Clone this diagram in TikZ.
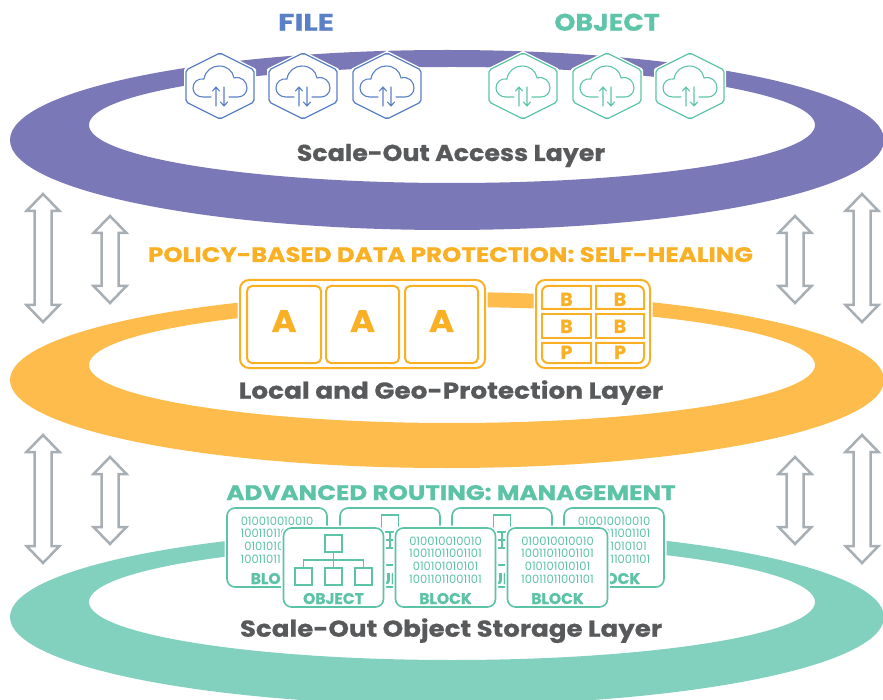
\documentclass[tikz,border=0pt]{standalone}
\usepackage{graphicx}
\usepackage{fontspec}
\setmainfont{Poppins}[BoldFeatures={FakeBold=0.6}]
\definecolor{ringP}{HTML}{7B78B8}
\definecolor{ringY}{HTML}{FDBC4B}
\definecolor{ringT}{HTML}{82D0BE}
\definecolor{fileB}{HTML}{5A80C6}
\definecolor{objT}{HTML}{5FC5AA}
\definecolor{polO}{HTML}{F9B025}
\definecolor{advT}{HTML}{5DC3A6}
\definecolor{txtG}{HTML}{58595B}
\definecolor{arrG}{HTML}{A7AFB4}
\tikzset{
  layer/.style={font=\fontsize{23}{23}\selectfont\bfseries, text=txtG, inner sep=0pt, anchor=base},
  head/.style={font=\fontsize{21}{21}\selectfont\bfseries, inner sep=0pt, anchor=base},
  arrsty/.style={draw=arrG, line width=2.5pt, line join=miter, fill=white},
  halo/.style={preaction={draw=white, line width=5pt}},
  obox/.style={draw=polO, line width=2pt, fill=white, rounded corners=9pt, halo},
  ocell/.style={draw=polO, line width=2pt, fill=white, rounded corners=5pt},
  ocellsq/.style={draw=polO, line width=2pt, fill=white},
  aletter/.style={font=\fontsize{31}{31}\selectfont\bfseries, text=polO, inner sep=0pt, anchor=base},
  bletter/.style={font=\fontsize{19}{19}\selectfont\bfseries, text=polO, inner sep=0pt, anchor=base},
  tbox/.style={draw=advT, line width=1.6pt, fill=white, rounded corners=8pt, halo},
  bin/.style={font=\fontsize{11.5}{11.5}\selectfont, text=advT, inner sep=0pt, anchor=base},
  blbl/.style={font=\fontsize{15.5}{15.5}\selectfont\bfseries, text=advT, inner sep=0pt, anchor=base},
  tree/.style={draw=advT, line width=1.3pt},
}
\newcommand\sx[2]{\scalebox{#1}[1]{#2}}
\newcommand\dblarr[4]{% name x ytop ybot
  \draw[arrsty] (#2,#3) coordinate (#1) -- (#2+16.5,#3+17) -- (#2+8.5,#3+17) -- (#2+8.5,#4-17)
   -- (#2+16.5,#4-17) -- (#2,#4) -- (#2-16.5,#4-17) -- (#2-8.5,#4-17) -- (#2-8.5,#3+17)
   -- (#2-16.5,#3+17) -- cycle;}
\newcommand\hexicon[4]{% name cx cy color
  \begin{scope}[shift={(#2,#3)}]
  \coordinate (#1) at (0,0);
  \draw[white, line width=4pt, fill=white, line join=round] (0,-33) -- (34,-16) -- (34,16) -- (0,33) -- (-34,16) -- (-34,-16) -- cycle;
  \draw[#4, line width=1.3pt, rounded corners=2pt] (0,-33) -- (34,-16) -- (34,16) -- (0,33) -- (-34,16) -- (-34,-16) -- cycle;
  \draw[#4, line width=1.1pt, line cap=round, line join=round] (-9,11) -- (-17,11)
    .. controls (-23,11) and (-27,7) .. (-27,2)
    .. controls (-27,-4) and (-22,-8) .. (-16,-7)
    .. controls (-15,-15) and (-8,-20) .. (-1,-20)
    .. controls (7,-20) and (13,-15) .. (14,-8)
    .. controls (21,-10) and (27,-5) .. (27,2)
    .. controls (27,7) and (23,11) .. (18,11) -- (9,11);
  \draw[#4, line width=1.1pt, line cap=round, line join=round] (-4,20) -- (-4,1) (-7.5,5) -- (-4,1) -- (-0.5,5)
    (4,1) -- (4,20) (0.5,16) -- (4,20) -- (7.5,16);
  \end{scope}}
\newcommand\blockbox[3]{% name cx top
  \draw[tbox] (#2-50,#3) rectangle (#2+50,#3+79);
  \coordinate (#1) at (#2,#3);
  \node[bin] (#1a) at (#2,#3+17) {010010010010};
  \node[bin] (#1b) at (#2,#3+29.7) {10011011001101};
  \node[bin] (#1c) at (#2,#3+42.4) {010101010101};
  \node[bin] (#1d) at (#2,#3+55) {10011011001101};
  \node[blbl] (#1l) at (#2,#3+76) {BLOCK};}
\newcommand\objbox[3]{% name cx top
  \draw[tbox] (#2-50,#3) rectangle (#2+50,#3+79);
  \coordinate (#1) at (#2,#3);
  \draw[tree] (#2-8.5,#3+7) rectangle (#2+8.5,#3+24);
  \draw[tree] (#2,#3+24) -- (#2,#3+32) (#2-30,#3+40) -- (#2-30,#3+32) -- (#2+30,#3+32) -- (#2+30,#3+40) (#2,#3+32) -- (#2,#3+40);
  \draw[tree] (#2-38.5,#3+40) rectangle (#2-21.5,#3+57);
  \draw[tree] (#2-8.5,#3+40) rectangle (#2+8.5,#3+57);
  \draw[tree] (#2+21.5,#3+40) rectangle (#2+38.5,#3+57);
  \node[blbl] (#1l) at (#2,#3+76) {OBJECT};}
\begin{document}
\begin{tikzpicture}[x=1pt, y=-1pt]
\useasboundingbox (0,0) rectangle (883,700);
% rings
\fill[ringP, even odd rule] (447,140) ellipse [x radius=437pt, y radius=90pt] (452,125) ellipse [x radius=363pt, y radius=58pt];
\fill[ringY, even odd rule] (447,380) ellipse [x radius=437pt, y radius=88pt] (452,365) ellipse [x radius=363pt, y radius=58pt];
\fill[ringT, even odd rule] (447,617) ellipse [x radius=437pt, y radius=88pt] (452,602) ellipse [x radius=363pt, y radius=58pt];
% headings
\node[head, text=fileB, font=\fontsize{24}{24}\selectfont\bfseries] (file) at (306,30.7) {\sx{1.25}{FILE}};
\node[head, text=objT, font=\fontsize{24}{24}\selectfont\bfseries] (object) at (607,30.7) {\sx{1.12}{OBJECT}};
\node[layer] (access) at (451,161) {\sx{1.1}{Scale-Out Access Layer}};
\node[head, text=polO] (policy) at (450.5,262) {\sx{1.17}{POLICY-BASED DATA PROTECTION: SELF-HEALING}};
\node[layer] (local) at (451,398.7) {\sx{1.145}{Local and Geo-Protection Layer}};
\node[head, text=advT] (routing) at (451,500) {\sx{1.175}{ADVANCED ROUTING: MANAGEMENT}};
\node[layer] (storage) at (451,636.7) {\sx{1.135}{Scale-Out Object Storage Layer}};
% icons
\hexicon{f1}{220}{86}{fileB}
\hexicon{f2}{303}{86}{fileB}
\hexicon{f3}{387}{86}{fileB}
\hexicon{o1}{523}{86}{objT}
\hexicon{o2}{607}{86}{objT}
\hexicon{o3}{690}{86}{objT}
% arrows
\dblarr{a1}{43}{194}{322}
\dblarr{a2}{110}{216}{303}
\dblarr{a3}{795}{216}{303}
\dblarr{a4}{862}{194}{322}
\dblarr{a5}{43}{435}{563}
\dblarr{a6}{110}{457}{544}
\dblarr{a7}{795}{457}{544}
\dblarr{a8}{862}{435}{563}
% A box
\draw[obox] (240,280) rectangle (485,368);
\draw[ocell] (247,286) rectangle (321,363);
\draw[ocell] (326,286) rectangle (399,363);
\draw[ocell] (405,286) rectangle (478,363);
\node[aletter] (A1) at (284,332) {\sx{1.1}{A}};
\node[aletter] (A2) at (362.5,332) {\sx{1.1}{A}};
\node[aletter] (A3) at (441.5,332) {\sx{1.1}{A}};
% B box
\draw[obox] (536,280) rectangle (650,368);
\draw[ocellsq] (591,286) -- (548,286) .. controls (544.7,286) and (542,288.7) .. (542,292) -- (542,309) -- (591,309) -- cycle;
\draw[ocellsq] (596,286) -- (638,286) .. controls (641.3,286) and (644,288.7) .. (644,292) -- (644,309) -- (596,309) -- cycle;
\draw[ocellsq] (542,314) rectangle (591,338);
\draw[ocellsq] (596,314) rectangle (644,338);
\draw[ocellsq] (591,343) -- (591,363) -- (548,363) .. controls (544.7,363) and (542,360.3) .. (542,357) -- (542,343) -- cycle;
\draw[ocellsq] (596,343) -- (596,363) -- (638,363) .. controls (641.3,363) and (644,360.3) .. (644,357) -- (644,343) -- cycle;
\node[bletter] (B1) at (566.5,306) {B};
\node[bletter] (B2) at (620,306) {B};
\node[bletter] (B3) at (566.5,333) {B};
\node[bletter] (B4) at (620,333) {B};
\node[bletter] (P1) at (566.5,359) {P};
\node[bletter] (P2) at (620,359) {P};
% storage boxes
\blockbox{bk1}{277}{508}
\objbox{bk2}{390}{508}
\objbox{bk3}{502}{508}
\blockbox{bk4}{614}{508}
\objbox{fr1}{333.5}{528}
\blockbox{fr2}{445.5}{528}
\blockbox{fr3}{557.5}{528}
\end{tikzpicture}
\end{document}
